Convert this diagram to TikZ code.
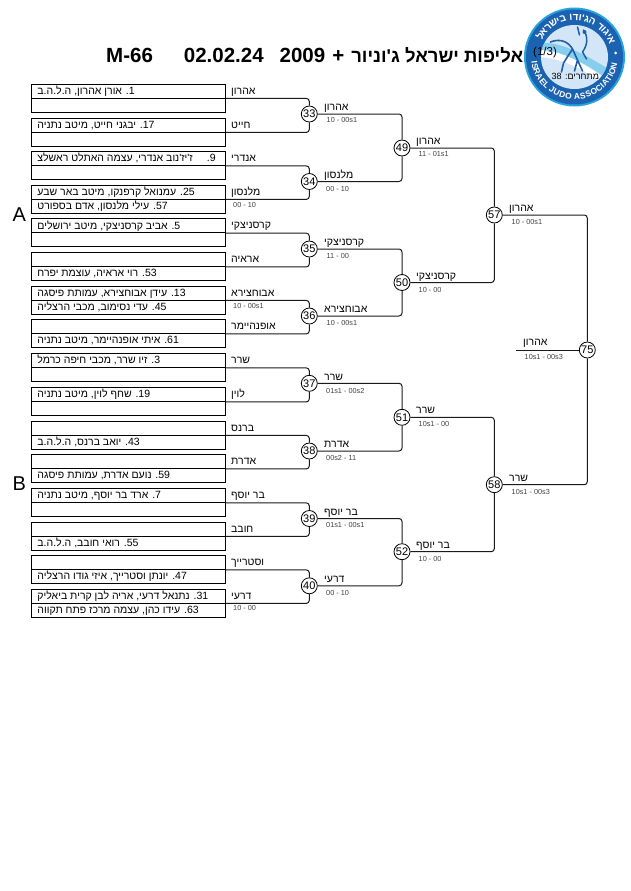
\documentclass[tikz,border=0pt]{standalone}
\usepackage{fontspec}
\setmainfont{Liberation Sans}
\newfontfamily\he[Script=Hebrew]{Liberation Sans}
\TeXXeTstate=1
\definecolor{ink}{HTML}{1A1A1A}
\definecolor{logoblue}{HTML}{1B62B0}
\definecolor{logoedge}{HTML}{27A3E0}
\definecolor{logoin}{HTML}{D3E6F7}
\definecolor{logoswoosh}{HTML}{86CDEE}
\definecolor{logofig}{HTML}{1F5FA8}
\tikzset{
 x=1pt,y=-1pt,
 rowbox/.style={draw=black,line width=.9pt,minimum width=194pt,minimum height=14pt,inner sep=0pt,anchor=north west,text height=9pt,text depth=2pt,font=\fontsize{10.5}{12}\he},
 match/.style={draw=black,fill=white,circle,line width=.8pt,minimum size=16pt,inner sep=0pt,font=\fontsize{11}{12}\selectfont},
 link/.style={draw=ink,line width=1pt,rounded corners=3pt},
 who/.style={anchor=base west,inner sep=0pt,font=\fontsize{10.5}{12}\he},
 score/.style={anchor=base west,inner sep=0pt,text=black!75,font=\fontsize{7.3}{9}\selectfont},
}
% \Ent{number}{y}{top row}{bottom row}
\newcommand\Ent[4]{%
 \node[rowbox] (r#1a) at (31,#2) {\makebox[194pt][l]{\hspace{6pt}#3}};
 \node[rowbox] (r#1b) at (31,#2+14) {\makebox[194pt][l]{\hspace{6pt}#4}};
}
\begin{document}
\begin{tikzpicture}
\useasboundingbox (0,0) rectangle (630,891);
% logo
\begin{scope}[shift={(574.5,57)}]
 \fill[logoedge] (0,0) ellipse [x radius=50.5pt,y radius=49.5pt];
 \fill[logoblue] (0,0) ellipse [x radius=48.5pt,y radius=47.5pt];
 \fill[logoin] (0,0) ellipse [x radius=33.5pt,y radius=32pt];
 \begin{scope}
  \clip (0,0) ellipse [x radius=33.5pt,y radius=32pt];
  \fill[logoswoosh] (-36,-14) .. controls (-15,-16) and (8,-4) .. (34,12) -- (30,20) .. controls (8,4) and (-15,-6) .. (-36,-6) -- cycle;
  \fill[white] (-36,-7) .. controls (-15,-7) and (6,4) .. (28,20) -- (24,24) .. controls (6,10) and (-15,1) .. (-36,0) -- cycle;
 \end{scope}
 \draw[logofig,line width=1.6pt,line cap=round,line join=round] (-24,-15) .. controls (-14,-19) and (-6,-15) .. (-2,-8) -- (3,3) -- (0,14) (-2,-8) -- (-11,6) -- (-13,15) (3,3) -- (8,14);
 \draw[logofig,line width=1.5pt,line cap=round,line join=round] (3,-30) -- (5,-22) (9,-27) .. controls (14,-20) and (13,-12) .. (8,-5) -- (12,2);
 \fill[logofig] (10,-25) circle (2pt);
 % ring text, set letter by letter with each letter's width
 \gdef\ringpos{21}
 \foreach \ch/\w in {א/.6,י/.27,ג/.45,ו/.27,ד/.55,{}/.28,ה/.6,ג/.45,'/.2,ו/.27,ד/.55,ו/.27,{}/.28,ב/.6,י/.27,ש/.7,ר/.55,א/.6,ל/.5} {
  \pgfmathsetmacro\ang{\ringpos+\w*7.05}
  \node[text=white,inner sep=0pt,font=\fontsize{10}{11}\he\bfseries,rotate=\ang-90] at ({40.5*cos(\ang)},{-39.5*sin(\ang)}) {\ch};
  \pgfmathsetmacro\nxt{\ringpos+\w*14.1+.8}
  \xdef\ringpos{\nxt}
 }
 \fill[white] (41,-4) circle (1.5pt);
 \gdef\ringpos{186}
 \foreach \ch/\w in {I/.278,S/.667,R/.722,A/.722,E/.667,L/.611,{}/.278,J/.556,U/.722,D/.722,O/.778,{}/.278,A/.722,S/.667,S/.667,O/.778,C/.722,I/.278,A/.722,T/.611,I/.278,O/.778,N/.722} {
  \pgfmathsetmacro\ang{\ringpos+\w*5.95}
  \node[text=white,inner sep=0pt,font=\fontsize{8.4}{10}\bfseries,rotate=\ang+90] at ({40.5*cos(\ang)},{-39.5*sin(\ang)}) {\ch};
  \pgfmathsetmacro\nxt{\ringpos+\w*11.9}
  \xdef\ringpos{\nxt}
 }
\end{scope}
% title
\node[anchor=base west,inner sep=0pt,font=\fontsize{20.5}{24}\bfseries\he] (title) at (106,63) {M-66\hspace{31pt}02.02.24\hspace{16pt}2009\hspace{7pt}+\hspace{7pt}{\fontsize{18.5}{24}\selectfont\beginR אליפות ישראל ג'וניור\endR}};
\node[anchor=base west,inner sep=0pt,font=\fontsize{11.5}{14}\selectfont] (part) at (533,56) {(1/3)};
\node[anchor=base west,inner sep=0pt,font=\fontsize{9}{11}\he] (total) at (551.5,79) {\beginR מתחרים: \beginL 38\endL\endR};
\node[anchor=base west,inner sep=0pt,font=\fontsize{20}{24}\selectfont] (groupA) at (12.5,221) {A};
\node[anchor=base west,inner sep=0pt,font=\fontsize{20}{24}\selectfont] (groupB) at (12.5,490) {B};
% entries
\Ent{1}{83.5}{\beginR\beginL 1\endL. אורן אהרון, ה.ל.ה.ב\endR}{}
\Ent{2}{117.5}{\beginR\beginL 17\endL. יבגני חייט, מיטב נתניה\endR}{}
\Ent{3}{151}{\beginR\beginL 9\endL.\hspace{14pt}ז'יז'נוב אנדרי, עצמה האתלט ראשלצ\endR}{}
\Ent{4}{184.5}{\beginR\beginL 25\endL. עמנואל קרפנקו, מיטב באר שבע\endR}{\beginR\beginL 57\endL. עילי מלנסון, אדם בספורט\endR}
\Ent{5}{218.3}{\beginR\beginL 5\endL. אביב קרסניצקי, מיטב ירושלים\endR}{}
\Ent{6}{252}{}{\beginR\beginL 53\endL. רוי אראיה, עוצמת יפרח\endR}
\Ent{7}{285.5}{\beginR\beginL 13\endL. עידן אבוחצירא, עמותת פיסגה\endR}{\beginR\beginL 45\endL. עדי נסימוב, מכבי הרצליה\endR}
\Ent{8}{319}{}{\beginR\beginL 61\endL. איתי אופנהיימר, מיטב נתניה\endR}
\Ent{9}{353}{\beginR\beginL 3\endL. זיו שרר, מכבי חיפה כרמל\endR}{}
\Ent{10}{387}{\beginR\beginL 19\endL. שחף לוין, מיטב נתניה\endR}{}
\Ent{11}{420.5}{}{\beginR\beginL 43\endL. יואב ברנס, ה.ל.ה.ב\endR}
\Ent{12}{454}{}{\beginR\beginL 59\endL. נועם אדרת, עמותת פיסגה\endR}
\Ent{13}{488}{\beginR\beginL 7\endL. ארד בר יוסף, מיטב נתניה\endR}{}
\Ent{14}{521.5}{}{\beginR\beginL 55\endL. רואי חובב, ה.ל.ה.ב\endR}
\Ent{15}{555}{}{\beginR\beginL 47\endL. יונתן וסטרייך, איזי גודו הרצליה\endR}
\Ent{16}{588.5}{\beginR\beginL 31\endL. נתנאל דרעי, אריה לבן קרית ביאליק\endR}{\beginR\beginL 63\endL. עידו כהן, עצמה מרכז פתח תקווה\endR}
% matches
\foreach \n/\x/\y in {33/309.3/114,34/309.3/181.5,35/309.3/249,36/309.3/316,37/309.3/383.3,38/309.3/451,39/309.3/518.5,40/309.3/585.8,
 49/402/148,50/402/282.5,51/402/417.3,52/402/551.7,57/494.3/215,58/494.3/484.7,75/587.3/350}
 \node[match] (m\n) at (\x,\y) {\n};
% connectors
\foreach \a/\b/\m in {1/2/33,3/4/34,5/6/35,7/8/36,9/10/37,11/12/38,13/14/39,15/16/40}{
 \draw[link] (r\a a.south east) -| (m\m.north);
 \draw[link] (r\b a.south east) -| (m\m.south);
}
\foreach \u/\v/\m in {33/34/49,35/36/50,37/38/51,39/40/52,49/50/57,51/52/58,57/58/75}{
 \draw[link] (m\u.east) -| (m\m.north);
 \draw[link] (m\v.east) -| (m\m.south);
}
\coordinate (tail) at (516,350);
\draw[link] (m75.west) -- (tail);
% first-round names
\foreach \y/\t in {94/אהרון,128/חייט,161.5/אנדרי,195/מלנסון,228.5/קרסניצקי,262/אראיה,296/אבוחצירא,329.5/אופנהיימר,363.5/שרר,397/לוין,431/ברנס,464.5/אדרת,498.5/בר יוסף,532/חובב,565.5/וסטרייך,599.5/דרעי}
 \node[who] at (231,\y) {\beginR\t\endR};
\foreach \x/\y/\t in {233/207.5/00 - 10,233/308.5/10 - 00s1,233/610/10 - 00}
 \node[score] at (\x,\y) {\t};
% winners
\foreach \x/\y/\t in {324/110/אהרון,324/178/מלנסון,324/245.5/קרסניצקי,324/312.5/אבוחצירא,324/380/שרר,324/447.5/אדרת,324/515/בר יוסף,324/582.5/דרעי,
 416/144.5/אהרון,416/279/קרסניצקי,416/413.5/שרר,416/548/בר יוסף,509/211.5/אהרון,509/481/שרר,523/345.5/אהרון}
 \node[who] at (\x,\y) {\beginR\t\endR};
\foreach \x/\y/\t in {326.5/122.7/10 - 00s1,326/191/00 - 10,326.5/258/11 - 00,326.5/325/10 - 00s1,326/393/01s1 - 00s2,326/460.5/00s2 - 11,326/527.5/01s1 - 00s1,326/595.5/00 - 10,
 418.5/156.7/11 - 01s1,418.5/292/10 - 00,418.5/426/10s1 - 00,418.5/561/10 - 00,511.5/224/10 - 00s1,511.5/494/10s1 - 00s3,524.5/359/10s1 - 00s3}
 \node[score] at (\x,\y) {\t};
\end{tikzpicture}
\end{document}
